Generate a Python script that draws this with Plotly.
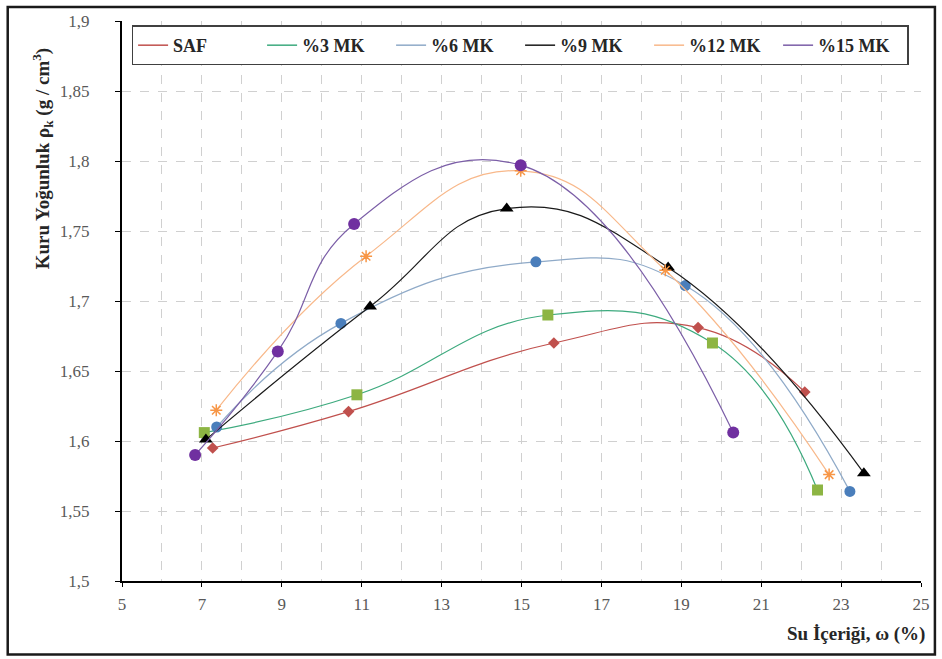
import plotly.graph_objects as go

# ---- data ----
series_names = ["SAF", "%3 MK", "%6 MK", "%9 MK", "%12 MK", "%15 MK"]

saf_x = [7.27, 10.67, 15.81, 19.42, 22.09]
saf_y = [1.595, 1.621, 1.670, 1.681, 1.635]

mk3_x = [7.06, 10.88, 15.66, 19.78, 22.41]
mk3_y = [1.606, 1.633, 1.690, 1.670, 1.565]

mk6_x = [7.37, 10.48, 15.36, 19.10, 23.22]
mk6_y = [1.610, 1.684, 1.728, 1.711, 1.564]

mk9_x = [7.10, 11.21, 14.63, 18.67, 23.57]
mk9_y = [1.601, 1.696, 1.766, 1.724, 1.577]

mk12_x = [7.36, 11.11, 14.98, 18.60, 22.70]
mk12_y = [1.622, 1.732, 1.793, 1.722, 1.576]

mk15_x = [6.83, 8.90, 10.81, 14.98, 20.30]
mk15_y = [1.590, 1.664, 1.755, 1.797, 1.606]

x_ticks = [5, 7, 9, 11, 13, 15, 17, 19, 21, 23, 25]
x_ticklabels = ["5", "7", "9", "11", "13", "15", "17", "19", "21", "23", "25"]
y_ticks = [1.5, 1.55, 1.6, 1.65, 1.7, 1.75, 1.8, 1.85, 1.9]
y_ticklabels = ["1,5", "1,55", "1,6", "1,65", "1,7", "1,75", "1,8", "1,85", "1,9"]

# ---- styles ----
line_colors = ["#C0504D", "#3DAA7E", "#8FAAC8", "#1A1A1A", "#F8B88A", "#7B5EA7"]
marker_colors = ["#C0504D", "#8DB543", "#4A7EBB", "#000000", "#F79646", "#7030A0"]
marker_symbols = ["diamond", "square", "circle", "triangle-up", "asterisk-open", "circle"]
marker_sizes = [9, 11, 11, 12, 10, 12]

xs = [saf_x, mk3_x, mk6_x, mk9_x, mk12_x, mk15_x]
ys = [saf_y, mk3_y, mk6_y, mk9_y, mk12_y, mk15_y]

FONT = "'Liberation Serif', 'Times New Roman', Times, serif"

fig = go.Figure()
for i, name in enumerate(series_names):
    fig.add_trace(go.Scatter(
        x=xs[i], y=ys[i], mode="lines+markers", name=name, showlegend=False,
        line=dict(color=line_colors[i], width=1.2, shape="spline", smoothing=1.3),
        marker=dict(symbol=marker_symbols[i], size=marker_sizes[i], color=marker_colors[i],
                    line=dict(width=1.5 if marker_symbols[i] == "asterisk-open" else 0,
                              color=marker_colors[i])),
    ))
for i, name in enumerate(series_names):
    fig.add_trace(go.Scatter(
        x=[None], y=[None], mode="lines", name=name, showlegend=True,
        line=dict(color=line_colors[i], width=1.5),
    ))

fig.update_layout(
    width=942, height=659,
    margin=dict(l=122, r=16, t=18, b=78),
    paper_bgcolor="white", plot_bgcolor="white",
    font=dict(family=FONT, size=17, color="#595959"),
    showlegend=True,
    legend=dict(
        orientation="h", x=0.012, y=0.992, xanchor="left", yanchor="top",
        bordercolor="#404040", borderwidth=1.5, bgcolor="white",
        font=dict(family=FONT, size=18, color="#262626", weight="bold"),
        entrywidth=84, itemwidth=30,
    ),
    xaxis=dict(
        range=[5, 25], tickmode="array", tickvals=x_ticks, ticktext=x_ticklabels,
        showline=True, linecolor="black", linewidth=2,
        ticks="outside", ticklen=4, tickcolor="black",
        showgrid=True, gridcolor="#D0D0D0", griddash="dash", gridwidth=1,
        minor=dict(dtick=1, showgrid=True, gridcolor="#D0D0D0", griddash="dash", gridwidth=1),
        zeroline=False, ticklabelstandoff=3,
    ),
    yaxis=dict(
        range=[1.5, 1.9], tickmode="array", tickvals=y_ticks, ticktext=y_ticklabels,
        showline=True, linecolor="black", linewidth=2,
        ticks="outside", ticklen=5, tickcolor="black",
        showgrid=True, gridcolor="#D0D0D0", griddash="dash", gridwidth=1,
        zeroline=False, ticklabelstandoff=22,
    ),
    annotations=[
        dict(text="Kuru Yoğunluk ρ<sub>k</sub> (g / cm<sup>3</sup>)", textangle=-90,
             xref="paper", yref="paper", x=-0.1, y=0.755, xanchor="center", yanchor="middle",
             showarrow=False, font=dict(family=FONT, size=19, color="#262626", weight="bold")),
        dict(text="Su İçeriği, ω (%)", xref="paper", yref="paper", x=1.0, y=-0.094,
             xanchor="right", yanchor="middle", showarrow=False, xshift=6,
             font=dict(family=FONT, size=19, color="#262626", weight="bold")),
    ],
    shapes=[
        dict(type="rect", xref="paper", yref="paper",
             x0=-115/804, x1=(940-122)/804, y0=-(655-581)/563, y1=1 + 14/563,
             line=dict(color="#1A1A1A", width=2.5), fillcolor="rgba(0,0,0,0)", layer="below"),
    ],
)

fig.write_html("out.html")
